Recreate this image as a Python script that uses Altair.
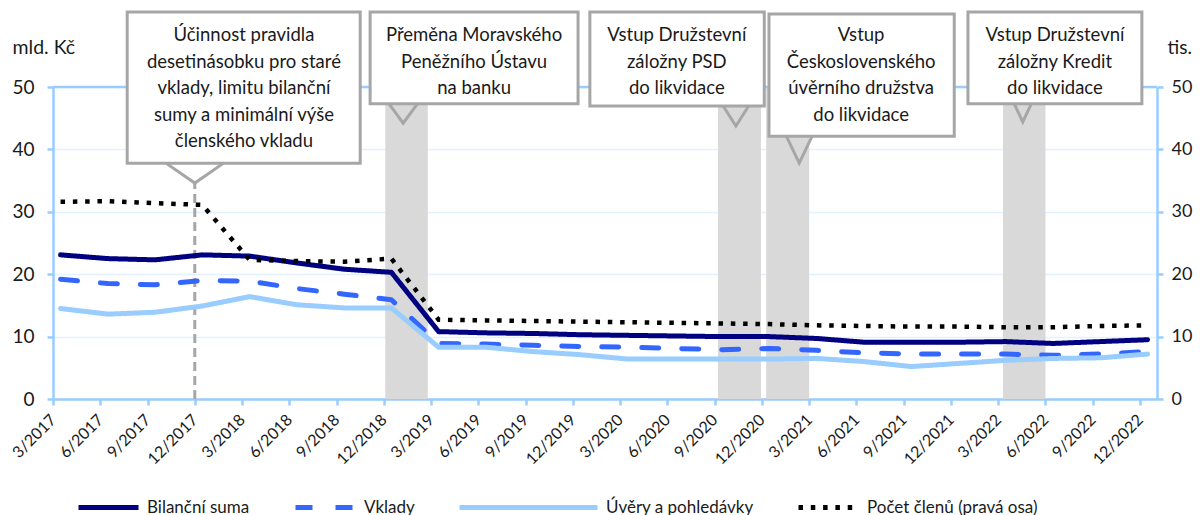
import altair as alt
import pandas as pd

# ---------------- data ----------------
quarters = ["3/2017", "6/2017", "9/2017", "12/2017", "3/2018", "6/2018", "9/2018", "12/2018",
            "3/2019", "6/2019", "9/2019", "12/2019", "3/2020", "6/2020", "9/2020", "12/2020",
            "3/2021", "6/2021", "9/2021", "12/2021", "3/2022", "6/2022", "9/2022", "12/2022"]

bilancni = [23.1, 22.5, 22.3, 23.1, 22.9, 21.8, 20.8, 20.3,
            10.8, 10.6, 10.5, 10.3, 10.2, 10.1, 10.0, 10.0,
            9.7, 9.1, 9.1, 9.1, 9.2, 8.9, 9.2, 9.5]
vklady = [19.2, 18.5, 18.3, 19.0, 18.9, 17.7, 16.8, 15.9,
          8.9, 8.8, 8.6, 8.4, 8.3, 8.1, 7.9, 8.1,
          7.8, 7.4, 7.2, 7.2, 7.2, 7.0, 7.2, 7.6]
uvery = [14.5, 13.6, 13.9, 14.9, 16.4, 15.1, 14.6, 14.6,
         8.3, 8.3, 7.6, 7.1, 6.4, 6.4, 6.4, 6.4,
         6.5, 6.0, 5.2, 5.7, 6.2, 6.5, 6.6, 7.2]
clenove = [31.6, 31.7, 31.4, 31.1, 22.3, 22.1, 22.0, 22.5,
           12.7, 12.6, 12.5, 12.4, 12.3, 12.2, 12.1, 12.0,
           11.8, 11.7, 11.6, 11.6, 11.5, 11.5, 11.7, 11.8]

series_names = ["Bilanční suma", "Vklady", "Úvěry a pohledávky", "Počet členů (pravá osa)"]
series_colors = ["#000080", "#3366ff", "#99ccff", "#000000"]
series_dash = [[1, 0], [17, 23], [1, 0], [4.5, 7.8]]

# shaded periods (in quarter-index units)
band_start = [7.03, 14.07, 15.09, 20.10]
band_end = [7.93, 14.98, 16.00, 21.00]

# callouts
callout_text = [
    "Účinnost pravidla\ndesetinásobku pro staré\nvklady, limitu bilanční\nsumy a minimální výše\nčlenského vkladu",
    "Přeměna Moravského\nPeněžního Ústavu\nna banku",
    "Vstup Družstevní\nzáložny PSD\ndo likvidace",
    "Vstup\nČeskoslovenského\núvěrního družstva\ndo likvidace",
    "Vstup Družstevní\nzáložny Kredit\ndo likvidace",
]
callout_x0 = [1.57, 6.71, 11.36, 15.15, 19.36]
callout_x1 = [6.50, 11.11, 15.05, 19.07, 23.04]
callout_bottom = [37.8, 47.3, 46.96, 42.1, 47.3]
callout_top = [62.0, 62.0, 62.0, 61.7, 62.0]
callout_tip_x = [3.0, 7.41, 14.45, 15.79, 20.52]
callout_tip_y = [34.6, 44.2, 43.75, 37.8, 44.4]
callout_half_w = [0.61, 0.30, 0.27, 0.27, 0.18]
callout_text_x = [4.04, 8.91, 13.20, 17.10, 21.20]
callout_text_y = [58.3, 58.3, 58.3, 58.3, 58.3]   # first text line

# ---------------- styling constants ----------------
FONT = "Lato"
AXIS_BLUE = "#99ccff"
GRID = "#e3f0ff"
BOX_GRAY = "#a6a6a6"
TEXT = "#1a1a1a"
X_SHIFT = 0.16
X_DOMAIN = [0, 23.36]
Y_DOMAIN = [0, 50]

xs = alt.Scale(domain=X_DOMAIN, nice=False, zero=False)
ys = alt.Scale(domain=Y_DOMAIN, nice=False, zero=False)

labels_expr = "[" + ",".join("'" + q + "'" for q in quarters) + "][round(datum.value)]"

X_AXIS = alt.Axis(
    values=list(range(len(quarters))), labelExpr=labels_expr, title=None, grid=False,
    domainColor=AXIS_BLUE, domainWidth=2.5, tickColor=AXIS_BLUE, tickWidth=2.5, tickSize=6,
    labelAngle=-45, labelAlign="right", labelBaseline="middle", labelPadding=12,
    labelFont=FONT, labelFontSize=16, labelColor=TEXT, labelOverlap=False)
Y_AXIS = alt.Axis(
    values=[0, 10, 20, 30, 40, 50], grid=True, gridColor=GRID, gridWidth=1.5,
    domainColor=AXIS_BLUE, domainWidth=2.5, tickColor=AXIS_BLUE, tickWidth=2.5, tickSize=6,
    labelFont=FONT, labelFontSize=19, labelColor=TEXT, labelPadding=13,
    title="mld. Kč", titleAngle=0, titleX=-41, titleY=-40, titleAlign="left",
    titleBaseline="middle", titleFont=FONT, titleFontSize=19.5, titleFontWeight="normal",
    titleColor=TEXT)
Y_AXIS_R = alt.Axis(
    orient="right", values=[0, 10, 20, 30, 40, 50], grid=False,
    domainColor=AXIS_BLUE, domainWidth=2.5, tickColor=AXIS_BLUE, tickWidth=2.5, tickSize=6,
    labelFont=FONT, labelFontSize=18, labelColor=TEXT, labelPadding=8,
    title="tis.", titleAngle=0, titleX=10, titleY=-40, titleAlign="left",
    titleBaseline="middle", titleFont=FONT, titleFontSize=19, titleFontWeight="normal",
    titleColor=TEXT)


def X(f):
    return alt.X(f, scale=xs, axis=X_AXIS)


def Y(f):
    return alt.Y(f, scale=ys, axis=Y_AXIS)


# ---------------- tables ----------------
def series_df(name, vals):
    return pd.DataFrame({"x": [i + X_SHIFT for i in range(len(vals))], "value": vals,
                         "series": name, "i": list(range(len(vals)))})


series_values = [bilancni, vklady, uvery, clenove]
df_series = [series_df(n, v) for n, v in zip(series_names, series_values)]

df_bands = pd.DataFrame({"x0": band_start, "x1": band_end,
                         "y0": [Y_DOMAIN[0]] * len(band_start), "y1": [Y_DOMAIN[1]] * len(band_start)})
df_top = pd.DataFrame({"y": [Y_DOMAIN[1]]})
df_vline = pd.DataFrame({"x": [quarters.index("12/2017")], "y": [0], "y2": [callout_tip_y[0]]})
df_call = pd.DataFrame({
    "id": list(range(len(callout_text))),
    "text": callout_text, "x0": callout_x0, "x1": callout_x1,
    "yb": callout_bottom, "yt": callout_top,
    "tx": callout_text_x, "ty": callout_text_y,
})
prow = []
for k in range(len(callout_text)):
    b = callout_bottom[k]
    pts = [(callout_tip_x[k] - callout_half_w[k], b),
           (callout_tip_x[k], callout_tip_y[k]),
           (callout_tip_x[k] + callout_half_w[k], b)]
    for s, (px, py) in enumerate(pts):
        prow.append({"id": k, "s": s, "x": px, "y": py, "y2": b + 0.45})
df_ptr = pd.DataFrame(prow)

# ---------------- legends: one per series, placed like the original ----------------
LEG_LABEL_Y = 418          # label centre, px below the plot top
leg_x = [23, 240, 404, 743]
leg_len = [60, 60, 138, 60]


def make_legend(k):
    return alt.Legend(
        title=None, orient="none", direction="horizontal",
        legendX=leg_x[k], legendY=LEG_LABEL_Y - leg_len[k] / 2,
        symbolType="stroke", symbolSize=leg_len[k] ** 2, symbolStrokeWidth=5,
        labelFont=FONT, labelFontSize=17, labelColor=TEXT, labelOffset=6, labelLimit=600)


def series_encodings(k):
    lg = make_legend(k)
    return dict(
        color=alt.Color("series:N", scale=alt.Scale(domain=[series_names[k]], range=[series_colors[k]]),
                        legend=lg),
        strokeDash=alt.StrokeDash("series:N", scale=alt.Scale(domain=[series_names[k]],
                                                              range=[series_dash[k]]), legend=lg),
    )


# ---------------- layers ----------------
bands = alt.Chart(df_bands).mark_rect(color="#d9d9d9").encode(
    x=X("x0:Q"), x2="x1:Q", y=Y("y0:Q"), y2="y1:Q")

top_rule = alt.Chart(df_top).mark_rule(color=AXIS_BLUE, strokeWidth=2.5).encode(y=Y("y:Q"))

vline = alt.Chart(df_vline).mark_rule(color=BOX_GRAY, strokeWidth=3, strokeDash=[9, 5]).encode(
    x=X("x:Q"), y=Y("y:Q"), y2="y2:Q")

left_lines = [
    alt.Chart(df_series[k]).mark_line(strokeWidth=5, strokeCap="round", strokeJoin="round").encode(
        x=X("x:Q"), y=Y("value:Q"), order="i:Q", **series_encodings(k))
    for k in range(3)
]

boxes = alt.Chart(df_call).mark_rect(fill="white", stroke=BOX_GRAY, strokeWidth=3).encode(
    x=X("x0:Q"), x2="x1:Q", y=Y("yb:Q"), y2="yt:Q")

ptr_fill = alt.Chart(df_ptr).mark_area(color="white", orient="vertical").encode(
    x=X("x:Q"), y=Y("y:Q"), y2="y2:Q", detail="id:N", order="s:Q")

ptr_line = alt.Chart(df_ptr).mark_line(color=BOX_GRAY, strokeWidth=3, strokeJoin="miter").encode(
    x=X("x:Q"), y=Y("y:Q"), detail="id:N", order="s:Q")

texts = alt.Chart(df_call).mark_text(
    font=FONT, fontSize=18.5, lineHeight=26.5, lineBreak="\n", color=TEXT,
    align="center", baseline="middle").encode(
    x=X("tx:Q"), y=Y("ty:Q"), text="text:N")

left_group = alt.layer(bands, top_rule, vline, *left_lines, boxes, ptr_fill, ptr_line, texts).resolve_scale(
    color="independent", strokeDash="independent")

dots = alt.Chart(df_series[3]).mark_line(strokeWidth=4.5, strokeCap="butt").encode(
    x=X("x:Q"),
    y=alt.Y("value:Q", scale=ys, axis=Y_AXIS_R),
    order="i:Q", **series_encodings(3),
)

chart = alt.layer(left_group, dots).resolve_scale(
    y="independent", color="independent", strokeDash="independent"
).properties(
    width=1104, height=312,
    autosize=alt.AutoSizeParams(type="none"),
    padding={"left": 45, "top": 79, "right": 37, "bottom": 125},
).configure_view(stroke=None)

chart.save("out.html", embed_options={"renderer": "svg", "actions": False})
